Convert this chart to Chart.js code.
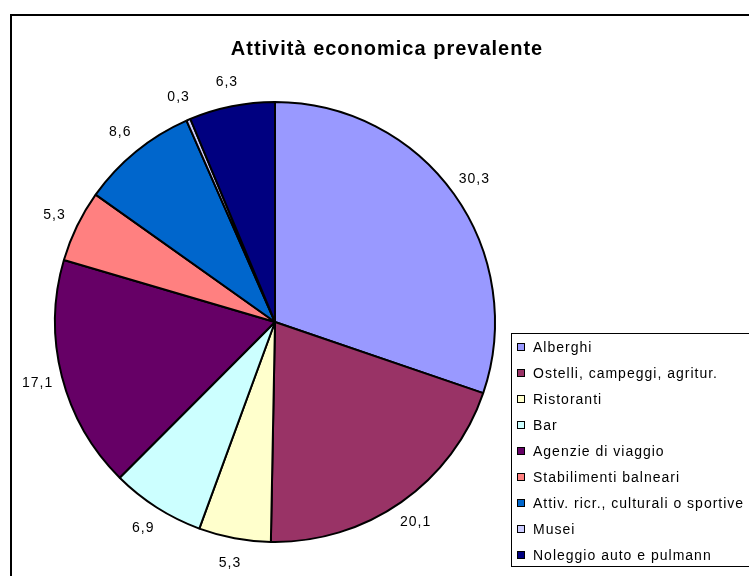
<!DOCTYPE html>
<html>
<head>
<meta charset="utf-8">
<script src="https://cdn.jsdelivr.net/npm/chart.js@4"></script>
<style>
  html, body { margin: 0; padding: 0; background: #fff; }
  canvas { display: block; }
</style>
</head>
<body>
<canvas id="pieChart" width="749" height="576"></canvas>
<script>
// Attività economica prevalente (%)
const categories = [
    "Alberghi",
    "Ostelli, campeggi, agritur.",
    "Ristoranti",
    "Bar",
    "Agenzie di viaggio",
    "Stabilimenti balneari",
    "Attiv. ricr., culturali o sportive",
    "Musei",
    "Noleggio auto e pulmann"
];
const values = [30.3, 20.1, 5.3, 6.9, 17.1, 5.3, 8.6, 0.3, 6.3];
const sliceColors = ['#9999FF', '#993366', '#FFFFCC', '#CCFFFF', '#660066', '#FF8080', '#0066CC', '#CCCCFF', '#000080'];
const chartTitle = "Attività economica prevalente";

// frame, title and legend box drawn around the pie
const framePlugin = {
    id: 'frame',
    beforeDraw(chart) {
        const ctx = chart.ctx;
        ctx.save();
        ctx.fillStyle = '#fff';
        ctx.fillRect(0, 0, chart.width, chart.height);
        ctx.strokeStyle = '#000';
        ctx.lineWidth = 2;
        ctx.beginPath();
        ctx.moveTo(11, chart.height + 5);
        ctx.lineTo(11, 15);
        ctx.lineTo(chart.width + 5, 15);
        ctx.stroke();
        ctx.restore();
    },
    afterDraw(chart) {
        const ctx = chart.ctx;
        ctx.save();
        // title
        ctx.fillStyle = '#000';
        ctx.font = 'bold 20px "Liberation Sans", Arial, sans-serif';
        ctx.letterSpacing = '1px';
        ctx.textAlign = 'left';
        ctx.textBaseline = 'alphabetic';
        const tw = ctx.measureText(chartTitle).width;
        ctx.fillText(chartTitle, 387 - tw / 2, 55);

        // legend
        ctx.strokeStyle = '#000';
        ctx.lineWidth = 1;
        ctx.strokeRect(511.5, 333.5, 260, 233);
        ctx.font = '14px "Liberation Sans", Arial, sans-serif';
        ctx.letterSpacing = '1px';
        ctx.textAlign = 'left';
        ctx.textBaseline = 'middle';
        categories.forEach((name, i) => {
            const y = 347 + i * 26;
            ctx.fillStyle = sliceColors[i];
            ctx.fillRect(518, y - 3, 6, 6);
            ctx.strokeStyle = '#000';
            ctx.strokeRect(517.5, y - 3.5, 7, 7);
            ctx.fillStyle = '#000';
            ctx.fillText(name, 533, y + 1);
        });
        ctx.restore();
    }
};

// value labels outside each slice
const valueLabels = {
    id: 'valueLabels',
    afterDatasetsDraw(chart) {
        const ctx = chart.ctx;
        const meta = chart.getDatasetMeta(0);
        ctx.save();
        ctx.fillStyle = '#000';
        ctx.font = '14px "Liberation Sans", Arial, sans-serif';
        ctx.letterSpacing = '1px';
        ctx.textAlign = 'left';
        ctx.textBaseline = 'middle';
        meta.data.forEach((arc, i) => {
            const p = arc.getProps(['x', 'y', 'startAngle', 'endAngle', 'outerRadius'], true);
            const mid = (p.startAngle + p.endAngle) / 2;
            const r = p.outerRadius + 25;
            const label = values[i].toFixed(1).replace('.', ',');
            const w = ctx.measureText(label).width;
            ctx.fillText(label, p.x + Math.cos(mid) * r - w / 2, p.y + Math.sin(mid) * r);
        });
        ctx.restore();
    }
};

new Chart(document.getElementById('pieChart'), {
    type: 'pie',
    data: {
        labels: categories,
        datasets: [{
            data: values,
            backgroundColor: sliceColors,
            borderColor: '#000',
            borderWidth: 2
        }]
    },
    options: {
        responsive: false,
        animation: false,
        layout: {
            padding: { left: 54, right: 253, top: 101, bottom: 33 }
        },
        plugins: {
            legend: { display: false },
            title: { display: false },
            tooltip: { enabled: false }
        }
    },
    plugins: [framePlugin, valueLabels]
});
</script>
</body>
</html>
